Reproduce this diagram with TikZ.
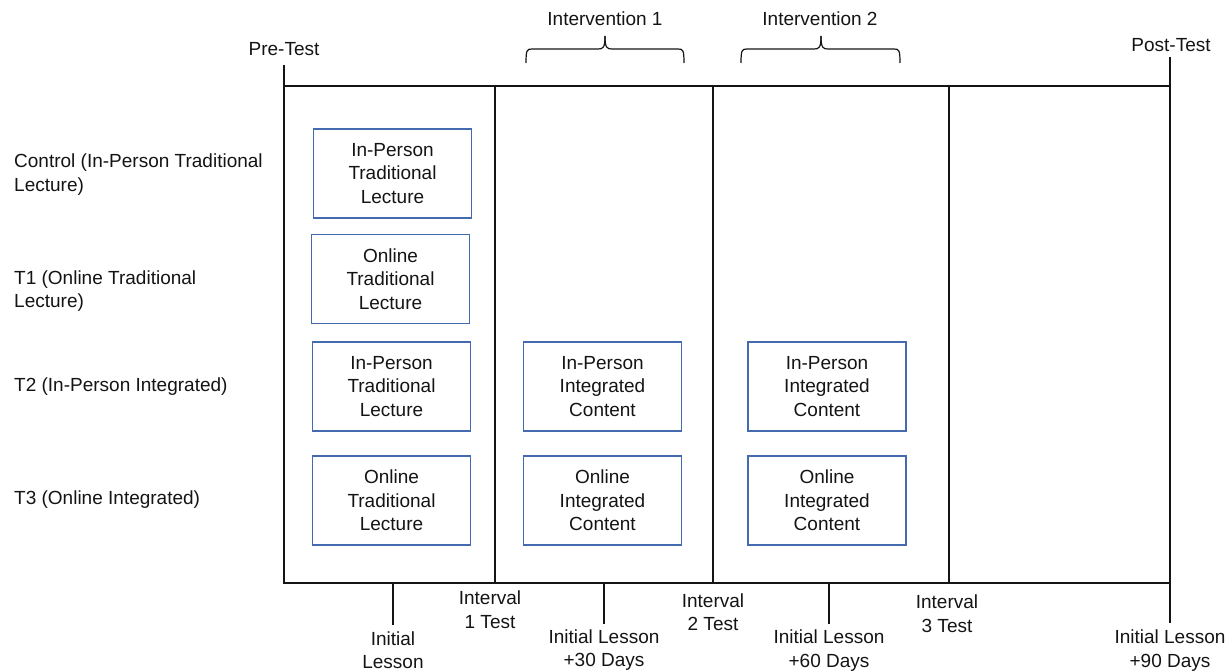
\documentclass[tikz,border=0pt]{standalone}
\usepackage{fontspec}
\setmainfont{Liberation Sans}
\definecolor{boxblue}{RGB}{68,106,176}
\definecolor{ink}{RGB}{20,20,20}
\begin{document}
\begin{tikzpicture}[x=1pt,y=-1pt,
  txt/.style={font=\fontsize{19}{23.5}\selectfont, inner sep=0pt, align=center, text=ink},
  grp/.style={font=\fontsize{19}{23.5}\selectfont, inner sep=0pt, align=left, anchor=west, text=ink},
  cbox/.style={draw=boxblue, line width=1.5pt, minimum width=158pt, minimum height=89pt,
    inner sep=0pt, align=center, font=\fontsize{19}{23.5}\selectfont, text=ink},
  frameline/.style={line width=1.4pt, draw=ink},
  tickline/.style={line width=1.4pt, draw=ink},
  bracel/.style={line width=1.2pt, draw=ink}
]
\useasboundingbox (0,0) rectangle (1232,671);

% frame corners and dividers
\coordinate (tl) at (284,86);
\coordinate (br) at (1170,583);
\draw[frameline] (tl) rectangle (br);
\foreach \x/\n in {495/a,713/b,949/c}{
  \coordinate (d\n t) at (\x,86);
  \coordinate (d\n b) at (\x,583);
  \draw[frameline] (d\n t) -- (d\n b);
}

% top labels and ticks
\node[txt] (pre) at (284,49) {Pre-Test};
\node[txt] (post) at (1171,45) {Post-Test};
\coordinate (preT) at (284,65);
\coordinate (postT) at (1170,57);
\draw[tickline] (preT) -- (tl);
\draw[tickline] (postT) -- (1170,86);

\node[txt] (iv1) at (605,19) {Intervention 1};
\node[txt] (iv2) at (820,19) {Intervention 2};

% braces
\draw[bracel] (526,63) .. controls (526,50) and (527,49) .. (532,49) -- (598,49)
  .. controls (603,49) and (605,48) .. (605,36);
\draw[bracel] (684,63) .. controls (684,50) and (683,49) .. (678,49) -- (612,49)
  .. controls (607,49) and (605,48) .. (605,36);
\draw[bracel] (741,63) .. controls (741,50) and (742,49) .. (747,49) -- (814,49)
  .. controls (819,49) and (821,48) .. (821,36);
\draw[bracel] (900,63) .. controls (900,50) and (899,49) .. (894,49) -- (828,49)
  .. controls (823,49) and (821,48) .. (821,36);

% row labels
\node[grp] (gC) at (14,174.5) {Control (In-Person Traditional\\Lecture)};
\node[grp] (g1) at (14,291) {T1 (Online Traditional\\Lecture)};
\node[grp] (g2) at (14,387) {T2 (In-Person Integrated)};
\node[grp] (g3) at (14,500) {T3 (Online Integrated)};

% boxes
\node[cbox] (b1) at (392.5,173.5) {In-Person\\Traditional\\Lecture};
\node[cbox] (b2) at (390.5,279) {Online\\Traditional\\Lecture};
\node[cbox] (b3) at (391.5,386.5) {In-Person\\Traditional\\Lecture};
\node[cbox] (b4) at (391.5,500.5) {Online\\Traditional\\Lecture};
\node[cbox] (b5) at (602.5,386.5) {In-Person\\Integrated\\Content};
\node[cbox] (b6) at (602.5,500.5) {Online\\Integrated\\Content};
\node[cbox] (b7) at (827,386.5) {In-Person\\Integrated\\Content};
\node[cbox] (b8) at (827,500.5) {Online\\Integrated\\Content};

% bottom ticks
\coordinate (t0a) at (393,583);  \coordinate (t0b) at (393,625);
\coordinate (t1a) at (604,583);  \coordinate (t1b) at (604,624);
\coordinate (t2a) at (829,583);  \coordinate (t2b) at (829,624);
\coordinate (t3b) at (1170,623);
\draw[tickline] (t0a) -- (t0b);
\draw[tickline] (t1a) -- (t1b);
\draw[tickline] (t2a) -- (t2b);
\draw[tickline] (br) -- (t3b);

% bottom labels
\node[txt] (i1) at (490,609.5) {Interval\\1 Test};
\node[txt] (i2) at (713,612) {Interval\\2 Test};
\node[txt] (i3) at (947,613.5) {Interval\\3 Test};
\node[txt] (l0) at (393,650) {Initial\\Lesson};
\node[txt] (l1) at (604,650) {Initial Lesson\\+30 Days};
\node[txt] (l2) at (829,650.5) {Initial Lesson\\+60 Days};
\node[txt] (l3) at (1170,650.5) {Initial Lesson\\+90 Days};
\end{tikzpicture}
\end{document}
